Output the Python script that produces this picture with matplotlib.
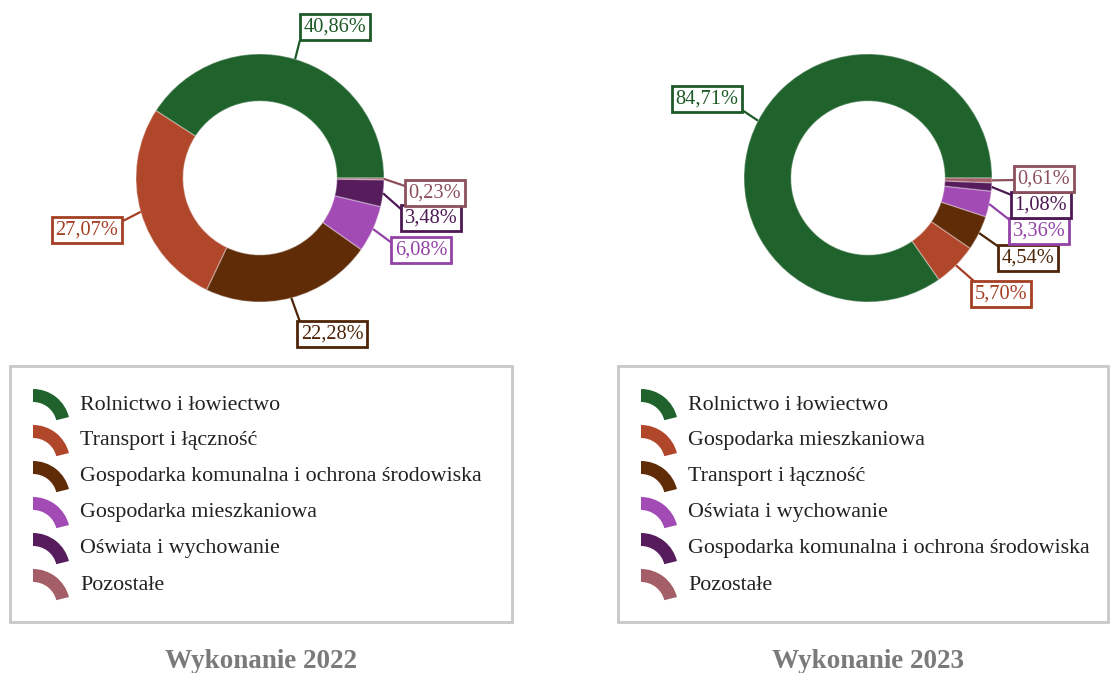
import matplotlib
matplotlib.use("Agg")
import matplotlib.pyplot as plt
from matplotlib.patches import Wedge, Rectangle
import numpy as np

plt.rcParams['font.family'] = ['Liberation Serif', 'DejaVu Serif']

# ---- data ----
categories_2022 = ["Rolnictwo i łowiectwo", "Transport i łączność",
                   "Gospodarka komunalna i ochrona środowiska",
                   "Gospodarka mieszkaniowa", "Oświata i wychowanie", "Pozostałe"]
values_2022 = [40.86, 27.07, 22.28, 6.08, 3.48, 0.23]

categories_2023 = ["Rolnictwo i łowiectwo", "Gospodarka mieszkaniowa",
                   "Transport i łączność", "Oświata i wychowanie",
                   "Gospodarka komunalna i ochrona środowiska", "Pozostałe"]
values_2023 = [84.71, 5.70, 4.54, 3.36, 1.08, 0.61]

titles = ["Wykonanie 2022", "Wykonanie 2023"]

# ---- styles (colours follow slice order) ----
slice_colors = ["#1f622c", "#b0462a", "#5f2c07", "#a24bb4", "#561c5c", "#a35e68"]
label_colors = ["#1d5a27", "#a33f22", "#4e2508", "#9342a6", "#4d1853", "#8c505c"]

W, H = 1110, 673
fig = plt.figure(figsize=(W / 100, H / 100), dpi=100)

# overlay axes in pixel coordinates (origin top-left)
ov = fig.add_axes([0, 0, 1, 1], zorder=5)
ov.set_xlim(0, W)
ov.set_ylim(H, 0)
ov.axis("off")
ov.patch.set_alpha(0)

R_PX = 124          # outer radius in pixels
RING = 0.38         # ring width relative to radius
HALF = 150          # half size of the pie axes in pixels

# layout per chart: centre, label box centres, leader line ends, legend box, title x
layouts = [
    dict(center=(260, 178),
         boxes=[(335, 27), (87, 230), (332, 334), (421, 250), (431, 218), (435, 193)],
         ends=[(300, 40), (121, 222), (300, 322), (392, 243), (402, 210), (405, 186)],
         legend=(10, 366, 502, 256), title_x=261),
    dict(center=(868, 178),
         boxes=[(707, 99), (1001, 294), (1028, 258), (1039, 231), (1041, 205), (1044, 179)],
         ends=[(742, 110), (975, 282), (999, 247), (1011, 221), (1014, 196), (1016, 180)],
         legend=(618, 366, 490, 256), title_x=868),
]

datasets = [(categories_2022, values_2022), (categories_2023, values_2023)]

for (cats, vals), lay, title in zip(datasets, layouts, titles):
    cx, cy = lay["center"]
    ax = fig.add_axes([(cx - HALF) / W, (H - cy - HALF) / H, 2 * HALF / W, 2 * HALF / H])
    ax.pie(vals, colors=slice_colors, startangle=0, counterclock=True, radius=1,
           wedgeprops=dict(width=RING, edgecolor=(1, 1, 1, 0.3), linewidth=1))
    lim = HALF / R_PX
    ax.set_xlim(-lim, lim)
    ax.set_ylim(-lim, lim)
    ax.set_aspect("equal")
    ax.axis("off")

    # percentage labels with leader lines
    total = sum(vals)
    start = 0.0
    for v, col, box, end in zip(vals, label_colors, lay["boxes"], lay["ends"]):
        span = 360.0 * v / total
        mid = np.deg2rad(start + span / 2)
        start += span
        sx = cx + R_PX * np.cos(mid)
        sy = cy - R_PX * np.sin(mid)
        ov.plot([sx, end[0]], [sy, end[1]], color=col, lw=1.6, zorder=1,
                solid_capstyle="butt")
        ov.text(box[0], box[1], f"{v:.2f}%".replace(".", ","), color=col,
                fontsize=14.7, ha="center", va="center", zorder=3,
                bbox=dict(boxstyle="square,pad=0.16", fc="white", ec=col, lw=2))

    # legend
    lx, ly, lw_, lh = lay["legend"]
    ov.add_patch(Rectangle((lx, ly), lw_, lh, fill=False, ec="#c8c8c8", lw=2))
    for i, (cat, col) in enumerate(zip(cats, slice_colors)):
        row_y = 403 + 36 * i
        ix = lx + 23
        ov.add_patch(Wedge((ix, row_y + 23), 37, -90, -14, width=13,
                           color=col, lw=0))
        ov.text(lx + 70, row_y + 2, cat, fontsize=15.8, color="#222222",
                ha="left", va="center")

    ov.text(lay["title_x"], 661, title, fontsize=19.5, fontweight="bold",
            color="#7a7a7a", ha="center", va="center")

fig.savefig("out.png", dpi=100)
